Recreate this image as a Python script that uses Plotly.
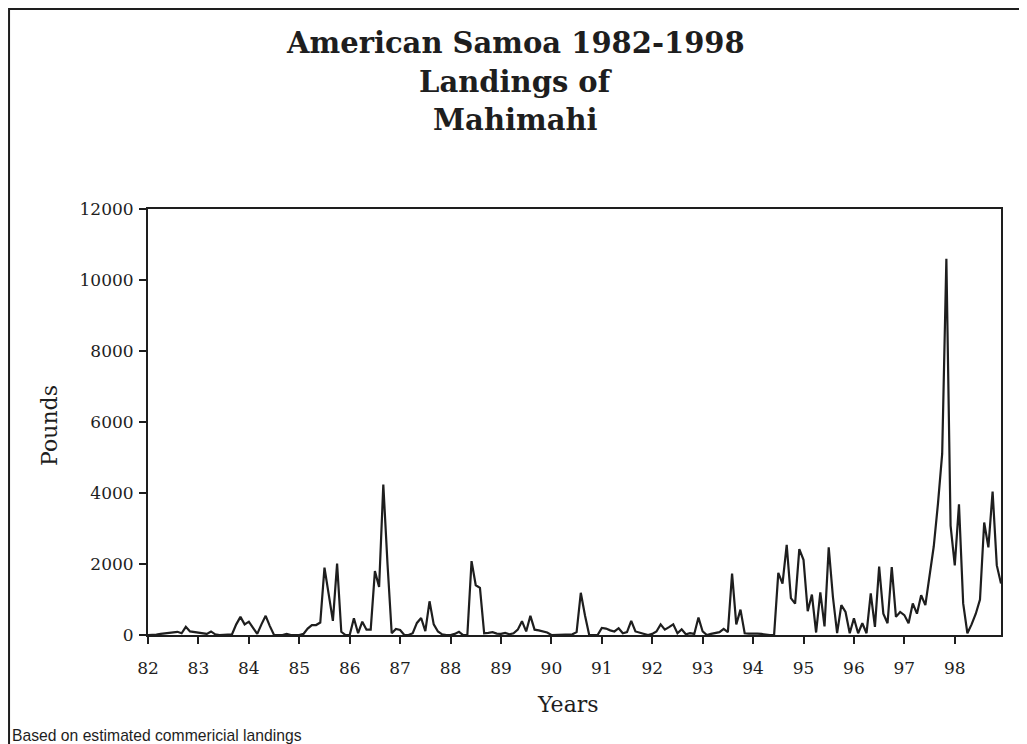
import numpy as np
import plotly.graph_objects as go

# monthly landings (pounds), Jan..Dec
years = list(range(1982, 1999))
landings = {
    1982: [0, 0, 10, 30, 50, 60, 90, 90, 50, 230, 100, 80],
    1983: [50, 30, 30, 100, 20, 0, 0, 0, 20, 300, 510, 300],
    1984: [375, 200, 30, 300, 540, 250, 0, 0, 0, 30, 0, 0],
    1985: [0, 30, 180, 280, 280, 350, 1900, 1150, 400, 2010, 90, 0],
    1986: [0, 470, 50, 375, 150, 150, 1800, 1350, 4240, 2000, 50, 170],
    1987: [140, 0, 0, 50, 340, 480, 110, 950, 300, 100, 20, 0],
    1988: [0, 30, 90, 0, 0, 2080, 1400, 1330, 50, 60, 80, 40],
    1989: [30, 60, 20, 50, 150, 390, 100, 540, 150, 130, 100, 70],
    1990: [0, 0, 0, 0, 0, 20, 80, 1190, 550, 0, 0, 0],
    1991: [200, 180, 130, 100, 190, 50, 80, 400, 100, 60, 30, 0],
    1992: [30, 100, 300, 150, 220, 300, 50, 160, 20, 50, 30, 490],
    1993: [100, 0, 30, 50, 80, 175, 80, 1730, 300, 715, 50, 40],
    1994: [50, 40, 30, 10, 0, 0, 1750, 1450, 2540, 1040, 885, 2420],
    1995: [2120, 670, 1140, 70, 1200, 240, 2470, 1070, 55, 840, 650, 50],
    1996: [470, 50, 330, 50, 1170, 230, 1930, 600, 330, 1910, 510, 650],
    1997: [560, 330, 890, 600, 1120, 840, 1630, 2500, 3700, 5100, 10600, 3080],
    1998: [1960, 3680, 890, 50, 300, 600, 1000, 3170, 2470, 4040, 1960, 1450],
}
year_ticks = list(range(82, 99))
year_labels = [str(y) for y in year_ticks]
pound_ticks = [0, 2000, 4000, 6000, 8000, 10000, 12000]
pound_labels = [str(p) for p in pound_ticks]

x = []
y = []
for yr in years:
    for m, v in enumerate(landings[yr]):
        x.append(yr - 1900 + m / 12)
        y.append(v)

serif = "DejaVu Serif"
ink = "#1e1e1e"

fig = go.Figure()
fig.add_trace(go.Scatter(x=x, y=y, mode="lines",
                         line=dict(color=ink, width=2.2), showlegend=False))

xrange = [82, 98 + 11 / 12]
yrange = [0, 12000]
# page body has an 8px margin, so the figure is drawn 8px smaller
fig.update_layout(
    width=1019, height=736,
    margin=dict(l=140, r=26, t=201, b=109),
    paper_bgcolor="white", plot_bgcolor="white",
    font=dict(family=serif, color=ink),
    xaxis=dict(range=xrange, tickvals=year_ticks, ticktext=year_labels,
               ticks="outside", ticklen=7, tickwidth=2, tickcolor=ink,
               ticklabelstandoff=10,
               showline=True, linewidth=2, linecolor=ink, mirror=True,
               showgrid=False, zeroline=False, tickfont=dict(size=17)),
    yaxis=dict(range=yrange, tickvals=pound_ticks, ticktext=pound_labels,
               ticks="outside", ticklen=7, tickwidth=2, tickcolor=ink,
               ticklabelstandoff=2,
               showline=True, linewidth=2, linecolor=ink, mirror=True,
               showgrid=False, zeroline=False, tickfont=dict(size=17)),
    # inner halves of the crossing tick marks
    xaxis2=dict(range=xrange, tickvals=year_ticks, overlaying="x",
                ticks="inside", ticklen=7, tickwidth=2, tickcolor=ink,
                showticklabels=False, showline=False, showgrid=False,
                zeroline=False),
    yaxis2=dict(range=yrange, tickvals=pound_ticks, overlaying="y",
                ticks="inside", ticklen=7, tickwidth=2, tickcolor=ink,
                showticklabels=False, showline=False, showgrid=False,
                zeroline=False),
)

titles = ["American Samoa 1982-1998", "Landings of", "Mahimahi"]
for i, t in enumerate(titles):
    fig.add_annotation(text=f"<b>{t}</b>", xref="paper", yref="paper",
                       x=0.431, y=1.39 - i * 0.091, showarrow=False,
                       xanchor="center", yanchor="middle",
                       font=dict(family=serif, size=29, color=ink))

fig.add_annotation(text="Pounds", xref="paper", yref="paper", x=-0.115, y=0.493,
                   textangle=-90, showarrow=False, xanchor="center", yanchor="middle",
                   font=dict(family=serif, size=22, color=ink))
fig.add_annotation(text="Years", xref="paper", yref="paper", x=0.492, y=-0.164,
                   showarrow=False, xanchor="center", yanchor="middle",
                   font=dict(family=serif, size=22, color=ink))
fig.add_annotation(text="Based on estimated commericial landings", xref="paper", yref="paper",
                   x=-0.1615, y=-0.235, showarrow=False, xanchor="left", yanchor="middle",
                   font=dict(family="Liberation Sans", size=15.7, color=ink))

# page frame along the top and left edges
fig.add_shape(type="rect", xref="paper", yref="paper",
              x0=-0.1629, x1=1.05, y0=-0.27, y1=1.4695,
              line=dict(color=ink, width=2))

fig.write_html("out.html")
